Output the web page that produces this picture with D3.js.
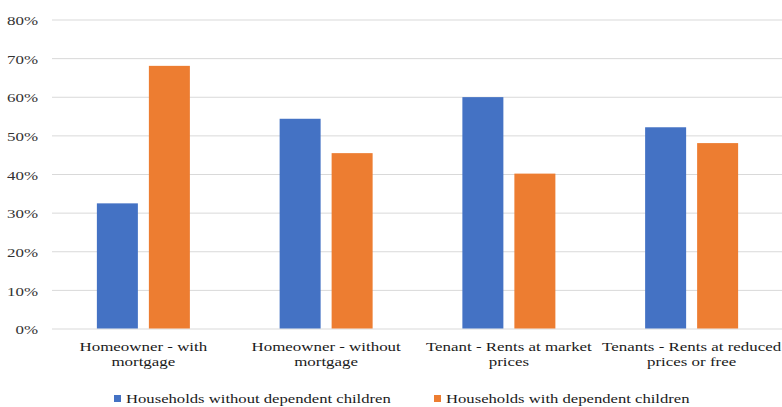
<!DOCTYPE html>
<html>
<head>
<meta charset="utf-8">
<script src="https://cdn.jsdelivr.net/npm/d3@7"></script>
<style>
  html, body { margin: 0; padding: 0; background: #fff; }
  svg { display: block; }
  svg text { font-family: "Liberation Serif", Tinos, "Times New Roman", Times, "DejaVu Serif", serif; }
</style>
</head>
<body>
<svg id="chart" width="782" height="407"></svg>
<script>
// Tenure categories (line breaks as shown under the axis)
const categories = [
  "Homeowner - with\nmortgage",
  "Homeowner - without\nmortgage",
  "Tenant - Rents at market\nprices",
  "Tenants - Rents at reduced\nprices or free"
];
const seriesNames = [
  "Households without dependent children",
  "Households with dependent children"
];
const withoutChildren = [0.324, 0.543, 0.599, 0.521];
const withChildren    = [0.680, 0.454, 0.401, 0.480];
const yTicks = [0, 0.1, 0.2, 0.3, 0.4, 0.5, 0.6, 0.7, 0.8];
const colors = ["#4472C4", "#ED7D31"];

const FONT = "'Liberation Serif', Tinos, 'Times New Roman', Times, 'DejaVu Serif', serif";
const svg = d3.select("#chart");
const plot = { left: 52, right: 783, top: 19.5, bottom: 328.5 };
const SX = 1.3; // horizontal stretch of the serif text

// Stretch a text element horizontally around its anchor
function stretch(sel, factor = SX) {
  sel.each(function () {
    const len = this.getComputedTextLength();
    d3.select(this).attr("textLength", len * factor).attr("lengthAdjust", "spacingAndGlyphs");
  });
}

const y = d3.scaleLinear().domain([0, 0.8]).range([plot.bottom, plot.top]);
const x0 = d3.scaleBand().domain(d3.range(categories.length)).range([plot.left, plot.right]).padding(0);
const innerW = 93;
const x1 = d3.scaleBand().domain([0, 1])
  .range([(x0.bandwidth() - innerW) / 2, (x0.bandwidth() + innerW) / 2])
  .paddingInner(0.2115).paddingOuter(0);

// Gridlines and percentage ticks
const yAxis = d3.axisLeft(y).tickValues(yTicks).tickSize(-(plot.right - plot.left)).tickFormat(d3.format(".0%"));
const gAxis = svg.append("g").attr("transform", `translate(${plot.left},0)`).call(yAxis)
  .attr("font-family", null).attr("font-size", null);
gAxis.select(".domain").remove();
gAxis.selectAll(".tick line").attr("stroke", "#d9d9d9").attr("stroke-width", 1);
gAxis.selectAll(".tick text")
  .attr("x", -14).attr("dy", "0.4em")
  .attr("fill", "#333")
  .style("font-size", "13px")
  .style("font-family", FONT)
  .attr("text-anchor", "end")
  .call(stretch);

// Bars
const series = [withoutChildren, withChildren];
const groups = svg.append("g").selectAll("g")
  .data(categories.map((c, i) => i))
  .join("g")
  .attr("transform", i => `translate(${x0(i)},0)`);
groups.selectAll("rect")
  .data(i => series.map((s, k) => ({ k, v: s[i] })))
  .join("rect")
  .attr("x", d => x1(d.k))
  .attr("width", x1.bandwidth())
  .attr("y", d => y(d.v))
  .attr("height", d => y(0) - y(d.v))
  .attr("fill", d => colors[d.k]);

// Category labels
categories.forEach((c, i) => {
  const cx = x0(i) + x0.bandwidth() / 2;
  c.split("\n").forEach((line, j) => {
    svg.append("text")
      .attr("x", cx).attr("y", 351 + j * 15)
      .attr("text-anchor", "middle")
      .attr("fill", "#1a1a1a")
      .style("font-size", "13px")
      .style("font-family", FONT)
      .text(line)
      .call(stretch);
  });
});

// Legend
const legendX = [114, 434];
seriesNames.forEach((name, k) => {
  const g = svg.append("g").attr("transform", `translate(${legendX[k]},0)`);
  g.append("rect").attr("x", 0).attr("y", 395).attr("width", 7).attr("height", 7).attr("fill", colors[k]);
  g.append("text").attr("x", 12).attr("y", 403)
    .attr("fill", "#1a1a1a")
    .style("font-size", "13px")
    .style("font-family", FONT)
    .text(name)
    .call(stretch, 1.28);
});
</script>
</body>
</html>
